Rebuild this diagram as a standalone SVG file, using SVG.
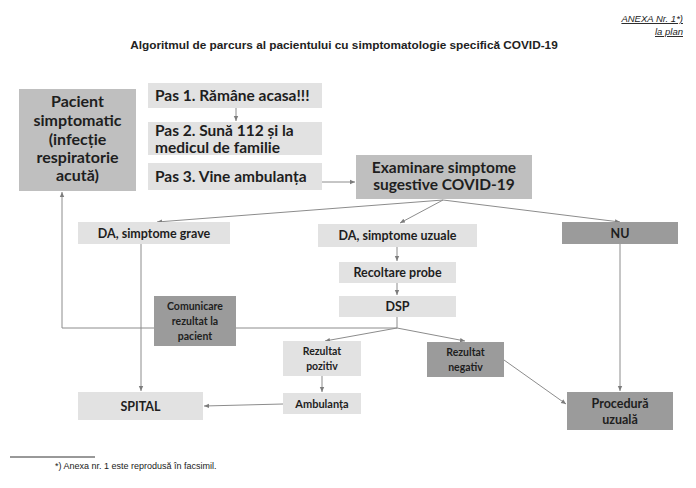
<svg xmlns="http://www.w3.org/2000/svg" width="696" height="488" viewBox="0 0 696 488">
<style>
.light{fill:#e2e2e2}
.mid{fill:#bfbfbf}
.dark{fill:#9b9b9b}
.t{font-family:Lato,"Noto Sans",sans-serif;font-weight:bold;fill:#1e1e1e;text-anchor:middle}
.tl{font-family:Lato,"Noto Sans",sans-serif;font-weight:bold;fill:#1e1e1e}
.doc{font-family:"Liberation Sans",Arial,sans-serif;fill:#222}
.c{fill:none;stroke:#8c8c8c;stroke-width:1}
</style>
<defs>
<marker id="ah" markerUnits="userSpaceOnUse" markerWidth="6" markerHeight="6" refX="5" refY="3" orient="auto">
<path d="M0,0.8 L5,3 L0,5.2 Z" fill="#7c7c7c"/>
</marker>
</defs>
<rect width="696" height="488" fill="#ffffff"/>

<g id="header">
<text class="doc" x="683" y="22" font-size="9.5" font-style="italic" text-anchor="end" text-decoration="underline">ANEXA Nr. 1*)</text>
<text class="doc" x="683" y="35" font-size="9.5" font-style="italic" text-anchor="end" text-decoration="underline">la plan</text>
<text class="doc" x="344" y="49" font-size="11.8" font-weight="bold" text-anchor="middle">Algoritmul de parcurs al pacientului cu simptomatologie specifică COVID-19</text>
</g>

<g id="connectors">
<line class="c" x1="236" y1="108" x2="236" y2="121" marker-end="url(#ah)"/>
<line class="c" x1="322" y1="182" x2="355" y2="182" marker-end="url(#ah)"/>
<line class="c" x1="443" y1="200" x2="157" y2="222" marker-end="url(#ah)"/>
<line class="c" x1="443" y1="200" x2="400" y2="223" marker-end="url(#ah)"/>
<line class="c" x1="443" y1="200" x2="620" y2="222" marker-end="url(#ah)"/>
<line class="c" x1="141" y1="244" x2="141" y2="391" marker-end="url(#ah)"/>
<line class="c" x1="397" y1="247" x2="397" y2="261" marker-end="url(#ah)"/>
<line class="c" x1="397" y1="283" x2="397" y2="295" marker-end="url(#ah)"/>
<polyline class="c" points="397,317 397,328 325,341" marker-end="url(#ah)"/>
<polyline class="c" points="397,328 465,341" marker-end="url(#ah)"/>
<polyline class="c" points="397,328 62,328 62,192" marker-end="url(#ah)"/>
<line class="c" x1="322" y1="376" x2="322" y2="392" marker-end="url(#ah)"/>
<line class="c" x1="283" y1="404" x2="204" y2="406" marker-end="url(#ah)"/>
<line class="c" x1="504" y1="360" x2="566" y2="404" marker-end="url(#ah)"/>
<line class="c" x1="620" y1="244" x2="620" y2="391" marker-end="url(#ah)"/>
</g>

<g id="pacient">
<rect class="mid" x="19" y="89" width="117" height="102"/>
<text class="t" x="77.5" y="107" font-size="16">Pacient</text>
<text class="t" x="77.5" y="126" font-size="16">simptomatic</text>
<text class="t" x="77.5" y="145" font-size="16">(infecție</text>
<text class="t" x="77.5" y="163" font-size="16">respiratorie</text>
<text class="t" x="77.5" y="181" font-size="16">acută)</text>
</g>

<g id="pas1">
<rect class="light" x="148" y="83" width="174" height="25"/>
<text class="tl" x="155" y="101" font-size="15.5">Pas 1. Rămâne acasa!!!</text>
</g>
<g id="pas2">
<rect class="light" x="148" y="122" width="174" height="33"/>
<text class="tl" x="155" y="136" font-size="15.5">Pas 2. Sună 112 și la</text>
<text class="tl" x="155" y="153" font-size="15.5">medicul de familie</text>
</g>
<g id="pas3">
<rect class="light" x="148" y="163" width="174" height="27"/>
<text class="tl" x="155" y="181.5" font-size="15.5">Pas 3. Vine ambulanța</text>
</g>

<g id="examinare">
<rect class="mid" x="356" y="155" width="176" height="44"/>
<text class="t" x="444" y="172.5" font-size="15.5">Examinare simptome</text>
<text class="t" x="444" y="190" font-size="15.5">sugestive COVID-19</text>
</g>

<g id="da-grave">
<rect class="light" x="78" y="222" width="152" height="22"/>
<text class="t" x="154" y="237.5" font-size="12.5">DA, simptome grave</text>
</g>
<g id="da-uzuale">
<rect class="light" x="318" y="224" width="159" height="23"/>
<text class="t" x="397.5" y="240" font-size="12.5">DA, simptome uzuale</text>
</g>
<g id="nu">
<rect class="dark" x="562" y="222" width="116" height="22"/>
<text class="t" x="620" y="237.5" font-size="12.5">NU</text>
</g>

<g id="recoltare">
<rect class="light" x="339" y="262" width="117" height="21"/>
<text class="t" x="397.5" y="277" font-size="12.5">Recoltare probe</text>
</g>
<g id="dsp">
<rect class="light" x="339" y="296" width="117" height="21"/>
<text class="t" x="397.5" y="311" font-size="12.5">DSP</text>
</g>

<g id="comunicare">
<rect class="dark" x="154" y="296" width="82" height="50"/>
<text class="t" x="195" y="309.5" font-size="10.5">Comunicare</text>
<text class="t" x="195" y="324.5" font-size="10.5">rezultat la</text>
<text class="t" x="195" y="339.5" font-size="10.5">pacient</text>
</g>

<g id="rezultat-pozitiv">
<rect class="light" x="283" y="341" width="78" height="35"/>
<text class="t" x="322" y="355" font-size="10.5">Rezultat</text>
<text class="t" x="322" y="370" font-size="10.5">pozitiv</text>
</g>
<g id="rezultat-negativ">
<rect class="dark" x="427" y="342" width="77" height="35"/>
<text class="t" x="465.5" y="356" font-size="10.5">Rezultat</text>
<text class="t" x="465.5" y="371" font-size="10.5">negativ</text>
</g>

<g id="ambulanta">
<rect class="light" x="283" y="393" width="78" height="21"/>
<text class="t" x="322" y="407.5" font-size="11">Ambulanța</text>
</g>
<g id="spital">
<rect class="light" x="78" y="392" width="125" height="28"/>
<text class="t" x="140.5" y="410.5" font-size="12.5">SPITAL</text>
</g>
<g id="procedura">
<rect class="dark" x="567" y="392" width="106" height="38"/>
<text class="t" x="620" y="407.5" font-size="12.5">Procedură</text>
<text class="t" x="620" y="423.5" font-size="12.5">uzuală</text>
</g>

<g id="footnote">
<line x1="10" y1="457" x2="95" y2="457" stroke="#333" stroke-width="1"/>
<text class="doc" x="55" y="469" font-size="9">*) Anexa nr. 1 este reprodusă în facsimil.</text>
</g>
</svg>
